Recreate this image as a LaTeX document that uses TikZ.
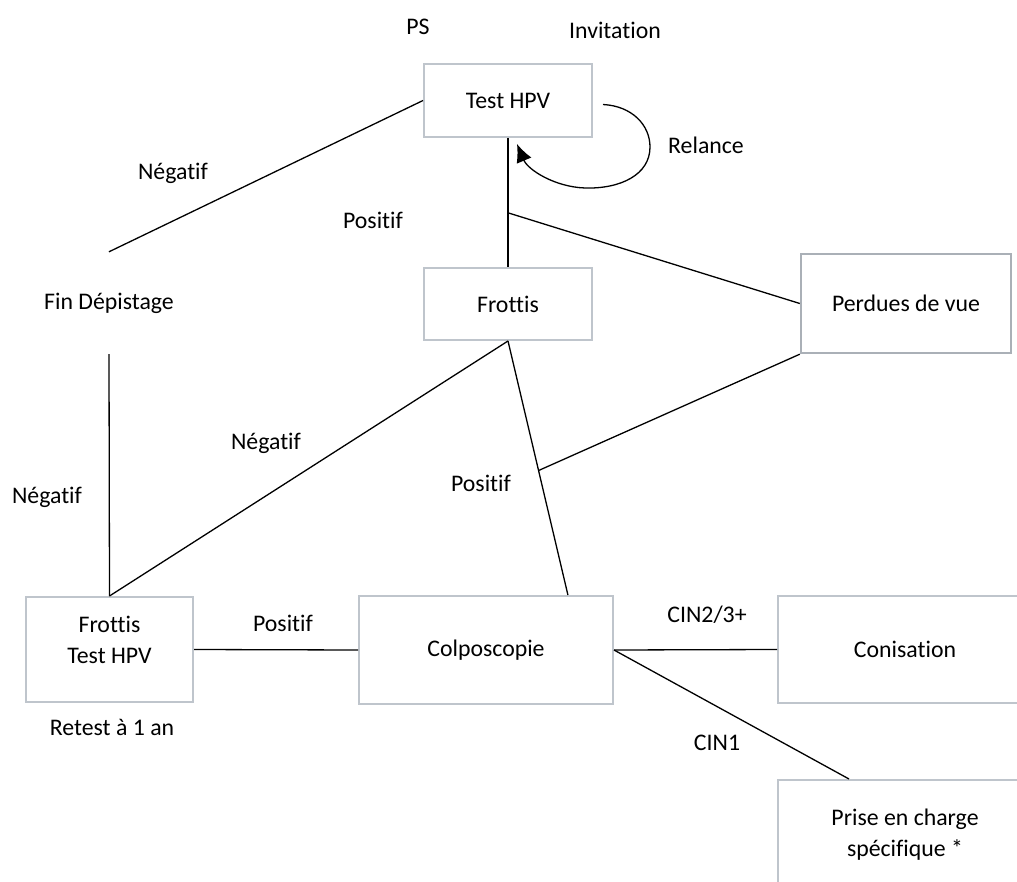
\documentclass[tikz,border=0pt]{standalone}
\usepackage{fontspec}
\setmainfont[Ligatures={NoCommon},RawFeature={-liga}]{Carlito}
\usetikzlibrary{arrows.meta,calc}

\definecolor{boxgray}{RGB}{191,197,204}
\definecolor{boxdark}{RGB}{170,176,183}

\begin{document}
\begin{tikzpicture}[x=1pt,y=-1pt,
  every node/.style={font=\fontsize{23.8}{31}\selectfont},
  box/.style={draw=boxgray,line width=2pt,inner sep=0pt,
    minimum width=168pt,minimum height=73pt},
  lbl/.style={inner sep=0pt},
  link/.style={line width=1.3pt}]
  \useasboundingbox (0,0) rectangle (1017,882);

  % boxes
  \node[box] (testhpv) at (508,100.5) {Test HPV};
  \node[box,minimum height=72pt] (frottis) at (508,304) {Frottis};
  \node[box,draw=boxdark,line width=2.4pt,minimum width=210pt,minimum height=99pt]
    (perdues) at (906,303.5) {Perdues de vue};
  \node[box,minimum width=167pt,minimum height=105pt,text height=10pt,text depth=45pt]
    (retest) at (109.5,649.5) {\begin{tabular}[t]{@{}c@{}}Frottis\\Test HPV\end{tabular}};
  \node[box,minimum width=254pt,minimum height=108pt] (colpo) at (486,650) {Colposcopie};
  \node[box,minimum width=254pt,minimum height=107pt] (conis) at (905,649.5) {Conisation};
  \node[box,minimum width=254pt,minimum height=107pt,text height=10pt,text depth=27pt]
    (prise) at (905,833.5) {\begin{tabular}[t]{@{}c@{}}Prise en charge\\sp\'ecifique *\end{tabular}};
  \node[lbl,minimum height=102pt] (fin) at (109,303) {Fin Dépistage};

  % labels
  \node[lbl] (ps) at (418,27) {PS};
  \node[lbl] (invit) at (615,30) {Invitation};
  \node[lbl] (relance) at (706,145) {Relance};
  \node[lbl] (negA) at (173,173) {Négatif};
  \node[lbl] (posA) at (373,220) {Positif};
  \node[lbl] (negB) at (266,443) {Négatif};
  \node[lbl] (negC) at (47,497) {Négatif};
  \node[lbl] (posB) at (481,483) {Positif};
  \node[lbl] (posC) at (283,623) {Positif};
  \node[lbl] (retestlbl) at (112,727) {Retest à 1 an};
  \node[lbl] (cinA) at (707,615) {CIN2/3+};
  \node[lbl] (cinB) at (717,743) {CIN1};

  % connectors
  \coordinate (split) at ($(testhpv.south)!0.58!(frottis.north)$);
  \coordinate (colpotop) at ($(colpo.north west)!0.82!(colpo.north east)$);
  \coordinate (lost) at ($(frottis.south)!0.51!(colpotop)$);
  \coordinate (prisetop) at ($(prise.north west)+(72,0)$);
  \coordinate (relstart) at ($(testhpv.east)+(10,4)$);
  \coordinate (relend) at ($(testhpv.south)+(9,6)$);

  \draw[link] (testhpv.west) -- (fin.north);
  \draw[link] (testhpv.south) -- (frottis.north);
  \draw[link] (split) -- (perdues.west);
  \draw[link] (fin.south) -- (retest.north);
  \draw[link] (frottis.south) -- (retest.north);
  \draw[link] (frottis.south) -- (colpotop);
  \draw[link] (lost) -- (perdues.south west);
  \draw[link] (retest.east) -- (colpo.west);
  \draw[link] (colpo.east) -- (conis.west);
  \draw[link] (colpo.east) -- (prisetop);
  \draw[link,-{Latex[length=18pt,width=16pt]}] (relstart)
    .. controls (632,106) and (650,125) .. (650,147)
    .. controls (650,175) and (620,189) .. (585,188)
    .. controls (555,187) and (528,170) .. (relend);
\end{tikzpicture}
\end{document}
